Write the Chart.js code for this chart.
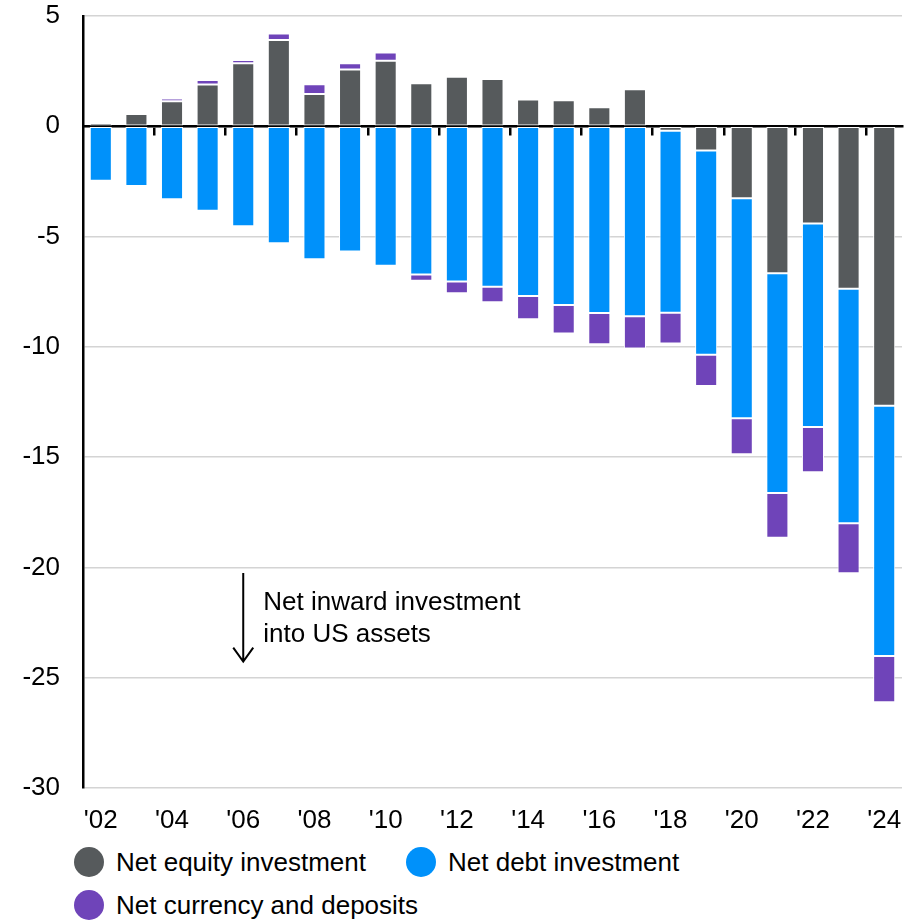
<!DOCTYPE html>
<html>
<head>
<meta charset="utf-8">
<script src="https://cdn.jsdelivr.net/npm/chart.js@4.4.1/dist/chart.umd.min.js"></script>
<style>
  body { margin: 0; background: #fff; font-family: "Liberation Sans", Arial, sans-serif; }
  #wrap { position: relative; width: 920px; height: 840px; }
  #legend { width: 920px; padding-left: 74px; padding-top: 1px; box-sizing: border-box; font-size: 26px; color: #000; }
  .item { display: inline-flex; align-items: center; height: 42px; margin-right: 40px; }
  .dot { width: 30px; height: 30px; border-radius: 50%; margin-right: 12px; }
</style>
</head>
<body>
<div id="wrap"><canvas id="flowChart"></canvas></div>
<div id="legend"></div>
<script>
const years = ["'02", "'03", "'04", "'05", "'06", "'07", "'08", "'09", "'10", "'11", "'12",
    "'13", "'14", "'15", "'16", "'17", "'18", "'19", "'20", "'21", "'22", "'23", "'24"];

const equity = [0.15, 0.56, 1.13, 1.9, 2.86, 3.91, 1.46, 2.58, 2.97, 1.95, 2.25,
    2.14, 1.22, 1.18, 0.86, 1.68, -0.2, -1.1, -3.26, -6.66, -4.41, -7.36, -12.67];

const debt = [-2.47, -2.71, -3.31, -3.83, -4.53, -5.3, -6.03, -5.68, -6.32, -6.72, -7.04,
    -7.28, -7.69, -8.1, -8.46, -8.61, -8.25, -9.26, -9.98, -9.96, -9.22, -10.64, -11.34];

const currency = [null, null, 0.13, 0.2, 0.15, 0.3, 0.45, 0.28, 0.38, -0.28, -0.53,
    -0.7, -1.06, -1.3, -1.42, -1.47, -1.4, -1.41, -1.63, -2.04, -2.05, -2.26, -2.1];

const FONT = '"Liberation Sans", Arial, sans-serif';

// arrow + note, placed with the chart scales
const notePlugin = {
    id: 'note',
    afterDatasetsDraw(chart) {
        const c = chart.ctx, xs = chart.scales.x, ys = chart.scales.y;
        const ax = xs.getPixelForValue(4);
        const top = ys.getPixelForValue(-20.25), bot = ys.getPixelForValue(-24.27);
        c.save();
        c.strokeStyle = '#000';
        c.lineWidth = 2;
        c.beginPath();
        c.moveTo(ax, top);
        c.lineTo(ax, bot);
        c.moveTo(ax - 10, bot - 14);
        c.lineTo(ax, bot);
        c.lineTo(ax + 10, bot - 14);
        c.stroke();
        c.fillStyle = '#000';
        c.font = '26px ' + FONT;
        c.textBaseline = 'alphabetic';
        c.fillText('Net inward investment', ax + 20, ys.getPixelForValue(-21.93));
        c.fillText('into US assets', ax + 20, ys.getPixelForValue(-23.36));
        c.restore();
    }
};

const ctx = document.getElementById('flowChart').getContext('2d');
const flowChart = new Chart(ctx, {
    type: 'bar',
    data: {
        labels: years,
        datasets: [{
            label: 'Net equity investment',
            data: equity,
            backgroundColor: '#565a5c'
        }, {
            label: 'Net debt investment',
            data: debt,
            backgroundColor: '#0091fa'
        }, {
            label: 'Net currency and deposits',
            data: currency,
            backgroundColor: '#6f44b9'
        }]
    },
    options: {
        responsive: true,
        maintainAspectRatio: false,
        animation: false,
        layout: { padding: { top: 0, right: 18, bottom: 0, left: 0 } },
        datasets: {
            bar: {
                borderColor: '#ffffff',
                borderWidth: 1,
                borderSkipped: false,
                categoryPercentage: 1,
                barPercentage: 0.62
            }
        },
        plugins: {
            legend: { display: false },
            tooltip: { enabled: false }
        },
        scales: {
            x: {
                stacked: true,
                grid: { display: false, drawTicks: false },
                border: { display: false },
                ticks: {
                    autoSkip: false,
                    maxRotation: 0,
                    padding: 17,
                    color: '#000',
                    font: { family: FONT, size: 26 },
                    callback: (v, i) => i % 2 === 0 ? years[i] : ''
                },
                afterFit: s => { s.height = 52; }
            },
            x2: {
                type: 'category',
                labels: years,
                offset: true,
                position: { y: 0 },
                z: 1,
                border: { display: true, color: '#000', width: 2.5 },
                grid: {
                    offset: true,
                    drawOnChartArea: false,
                    drawTicks: true,
                    tickLength: 8,
                    lineWidth: 2.5,
                    color: c => (c.index > 0 && c.index % 2 === 0) ? '#000' : 'rgba(0,0,0,0)'
                },
                ticks: { display: false, autoSkip: false },
                afterFit: s => { s.height = 0; }
            },
            y: {
                stacked: true,
                min: -30,
                max: 5,
                ticks: {
                    stepSize: 5,
                    padding: 23,
                    color: '#000',
                    font: { family: FONT, size: 26 }
                },
                grid: { color: '#d4d4d4', lineWidth: 1.5, drawTicks: false },
                border: { display: true, color: '#000', width: 2.5 },
                afterFit: s => { s.width = 83; s.paddingTop = 16; }
            }
        }
    },
    plugins: [notePlugin]
});

// legend built from the datasets
const legendBox = document.getElementById('legend');
flowChart.data.datasets.forEach(ds => {
    const item = document.createElement('span');
    item.className = 'item';
    item.innerHTML = '<span class="dot" style="background:' + ds.backgroundColor + '"></span>' + ds.label;
    legendBox.appendChild(item);
});
</script>
</body>
</html>
